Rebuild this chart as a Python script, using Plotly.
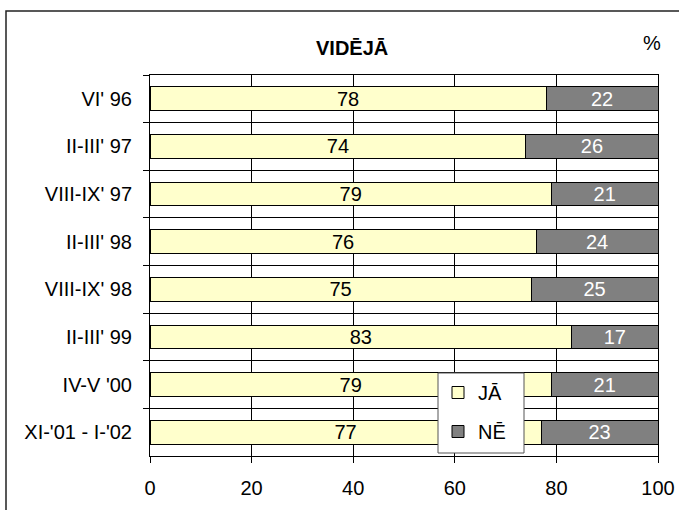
import plotly.graph_objects as go

categories = ["VI' 96", "II-III' 97", "VIII-IX' 97", "II-III' 98", "VIII-IX' 98",
              "II-III' 99", "IV-V '00", "XI-'01 - I-'02"]
ja_values = [78, 74, 79, 76, 75, 83, 79, 77]
ne_values = [22, 26, 21, 24, 25, 17, 21, 23]
x_ticks = [0, 20, 40, 60, 80, 100]

FONT = "Liberation Sans, Arial, sans-serif"
FS = 20
W, H = 679, 510
L, R, T, B = 150, 21, 75, 54
PW, PH = W - L - R, H - T - B

def px(x):
    return (x - L) / PW

def py(y):
    return (H - B - y) / PH

fig = go.Figure()
fig.add_trace(go.Bar(
    y=categories, x=ja_values, orientation="h", name="JĀ",
    marker=dict(color="#FFFFCC", line=dict(color="#000000", width=1)),
    text=[str(v) for v in ja_values], textposition="inside", insidetextanchor="middle",
    textangle=0, constraintext="none",
    textfont=dict(color="#000000", size=FS, family=FONT),
    legendgroup="a",
))
fig.add_trace(go.Bar(
    y=categories, x=ne_values, orientation="h", name="NĒ",
    marker=dict(color="#808080", line=dict(color="#000000", width=1)),
    text=[str(v) for v in ne_values], textposition="inside", insidetextanchor="middle",
    textangle=0, constraintext="none",
    textfont=dict(color="#FFFFFF", size=FS, family=FONT),
    legendgroup="b",
))

fig.update_layout(
    width=W, height=H, autosize=False,
    margin=dict(l=L, r=R, t=T, b=B, pad=0, autoexpand=False),
    barmode="stack", bargap=0.5,
    paper_bgcolor="white", plot_bgcolor="white",
    font=dict(family=FONT, size=FS, color="#000000"),
    showlegend=True,
    legend=dict(
        x=px(438), y=py(373), xanchor="left", yanchor="top",
        bgcolor="rgba(0,0,0,0)", borderwidth=0,
        font=dict(size=FS, family=FONT), tracegroupgap=10,
        itemclick=False,
    ),
    xaxis=dict(
        range=[0, 100], tickvals=x_ticks, ticks="outside", ticklen=6,
        tickcolor="#000000", showgrid=True, gridcolor="#000000", gridwidth=1,
        showline=True, linecolor="#000000", linewidth=1, mirror=True,
        zeroline=False, ticklabelstandoff=8, tickfont=dict(size=FS),
        automargin=False,
    ),
    yaxis=dict(
        type="category", autorange="reversed", tickson="boundaries",
        ticks="outside", ticklen=6, tickcolor="#000000",
        showgrid=True, gridcolor="#000000", gridwidth=1,
        showline=True, linecolor="#000000", linewidth=1, mirror=True,
        ticklabelstandoff=13, tickfont=dict(size=FS), automargin=False,
    ),
    annotations=[
        dict(text="<b>VIDĒJĀ</b>", x=px(352), y=py(48), xref="paper", yref="paper",
             xanchor="center", yanchor="middle",
             showarrow=False, font=dict(size=FS, family=FONT)),
        dict(text="%", x=px(652), y=py(43), xref="paper", yref="paper",
             xanchor="center", yanchor="middle",
             showarrow=False, font=dict(size=FS, family=FONT)),
    ],
    shapes=[
        dict(type="rect", xref="paper", yref="paper",
             x0=px(438), x1=px(524), y0=py(453), y1=py(373),
             line=dict(color="#555555", width=1), fillcolor="white",
             layer="above"),
        dict(type="rect", xref="paper", yref="paper",
             x0=px(6), x1=px(690), y0=py(520), y1=py(11),
             line=dict(color="#222222", width=1.5), fillcolor="rgba(0,0,0,0)",
             layer="above"),
    ],
)

fig.write_html("out.html", config={"displayModeBar": False},
               post_script="document.body.style.margin='0';document.body.style.overflow='hidden';")
